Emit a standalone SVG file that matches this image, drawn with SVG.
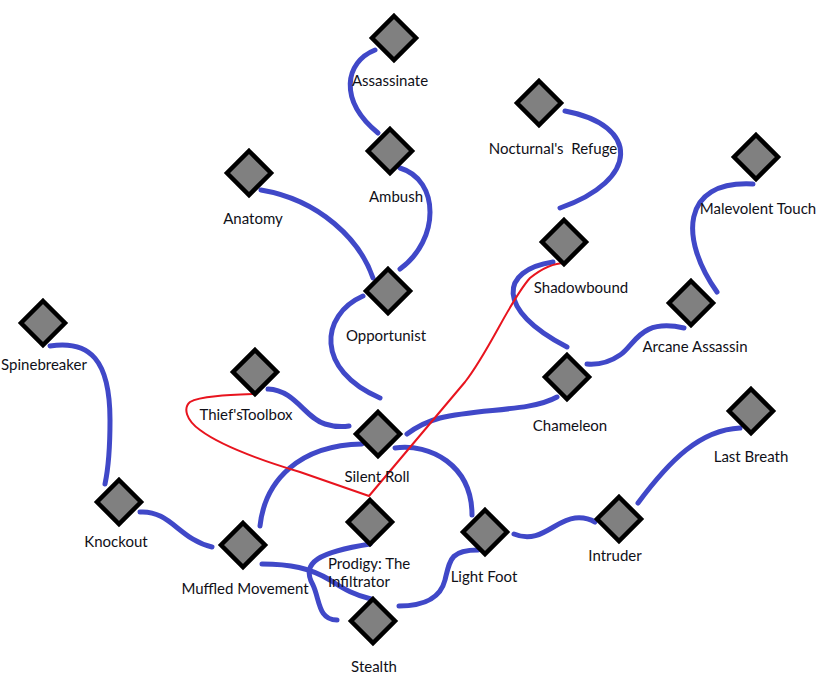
<svg xmlns="http://www.w3.org/2000/svg" width="832" height="682" viewBox="0 0 832 682">
<style>
.c{fill:none;stroke:#4048c8;stroke-width:5;stroke-linecap:round}
.r{fill:none;stroke:#e8141e;stroke-width:2;stroke-linejoin:round}
.d{fill:#808080;stroke:#000;stroke-width:4.5;stroke-linejoin:miter}
text{font-family:Lato,"Liberation Sans",sans-serif;font-size:15px;fill:#101018;text-anchor:middle}
</style>
<defs>
<path id="dm" d="M0,-22 L22,0 L0,22 L-22,0 Z"/>
</defs>
<rect width="832" height="682" fill="#fff"/>
<g id="connectors">
<path class="c" d="M375,50 C345,62 338,100 378,133"/>
<path class="c" d="M400,168 C440,180 440,240 400,269"/>
<path class="c" d="M261,190 C320,200 360,240 373,278"/>
<path class="c" d="M363,296 C320,315 315,370 380,398"/>
<path class="c" d="M565,111 C640,125 640,180 560,208"/>
<path class="c" d="M553,262 C500,270 495,310 567,347"/>
<path class="c" d="M753,184 C680,180 680,240 717,292"/>
<path class="c" d="M684,328 C640,318 635,345 620,355 C610,362 600,365 587,364"/>
<path class="c" d="M557,397 C530,412 480,408 440,418 C425,422 415,428 407,434"/>
<path class="c" d="M740,428 C700,430 670,460 638,503"/>
<path class="c" d="M514,534 C540,545 555,520 575,518 C585,517 590,519 595,522"/>
<path class="c" d="M478,550 C450,550 450,560 445,580 C440,600 420,606 399,606"/>
<path class="c" d="M395,448 C430,443 472,465 472,515"/>
<path class="c" d="M362,444 C300,445 265,480 260,526"/>
<path class="c" d="M268,389 C295,390 305,418 325,424 C335,427 343,427 349,426"/>
<path class="c" d="M50,346 C90,340 110,360 110,420 C110,450 108,470 105,484"/>
<path class="c" d="M140,512 C170,510 180,540 212,547"/>
<path class="c" d="M262,564 C290,564 310,568 330,580 C345,590 355,595 371,599"/>
<path class="c" d="M370,544 C320,552 300,562 313,585 C320,600 318,620 337,620"/>
<path class="r" d="M565,263 C555,263 545,266 530,278 C510,300 490,350 465,382 L369,496 L300,472 C260,460 220,445 200,430 C186,420 183,408 190,402 C200,396 230,395 255,394"/>
</g>
<g id="assassinate"><use href="#dm" class="d" x="394" y="38"/><text x="390" y="86">Assassinate</text></g>
<g id="ambush"><use href="#dm" class="d" x="390" y="151"/><text x="396" y="202">Ambush</text></g>
<g id="nocturnals-refuge"><use href="#dm" class="d" x="539" y="103"/><text x="553" y="154" xml:space="preserve">Nocturnal's  Refuge</text></g>
<g id="anatomy"><use href="#dm" class="d" x="249" y="173"/><text x="253" y="224">Anatomy</text></g>
<g id="opportunist"><use href="#dm" class="d" x="388" y="291"/><text x="386" y="341">Opportunist</text></g>
<g id="shadowbound"><use href="#dm" class="d" x="564" y="242"/><text x="581" y="293">Shadowbound</text></g>
<g id="malevolent-touch"><use href="#dm" class="d" x="756" y="157"/><text x="758" y="214">Malevolent Touch</text></g>
<g id="arcane-assassin"><use href="#dm" class="d" x="691" y="303"/><text x="695" y="352">Arcane Assassin</text></g>
<g id="chameleon"><use href="#dm" class="d" x="567" y="377"/><text x="570" y="431">Chameleon</text></g>
<g id="last-breath"><use href="#dm" class="d" x="751" y="411"/><text x="751" y="462">Last Breath</text></g>
<g id="intruder"><use href="#dm" class="d" x="619" y="519"/><text x="615" y="561">Intruder</text></g>
<g id="spinebreaker"><use href="#dm" class="d" x="43" y="323"/><text x="44" y="370">Spinebreaker</text></g>
<g id="thiefs-toolbox"><use href="#dm" class="d" x="255" y="372"/><text x="246" y="420">Thief'sToolbox</text></g>
<g id="silent-roll"><use href="#dm" class="d" x="378" y="434"/><text x="377" y="482">Silent Roll</text></g>
<g id="knockout"><use href="#dm" class="d" x="119" y="502"/><text x="116" y="547">Knockout</text></g>
<g id="muffled-movement"><use href="#dm" class="d" x="243" y="545"/><text x="245" y="594">Muffled Movement</text></g>
<g id="prodigy"><use href="#dm" class="d" x="370" y="522"/><text x="328" y="569" style="text-anchor:start">Prodigy: The</text><text x="328" y="587" style="text-anchor:start">Infiltrator</text></g>
<g id="light-foot"><use href="#dm" class="d" x="485" y="532"/><text x="484" y="582">Light Foot</text></g>
<g id="stealth"><use href="#dm" class="d" x="373" y="621"/><text x="374" y="672">Stealth</text></g>
</svg>
